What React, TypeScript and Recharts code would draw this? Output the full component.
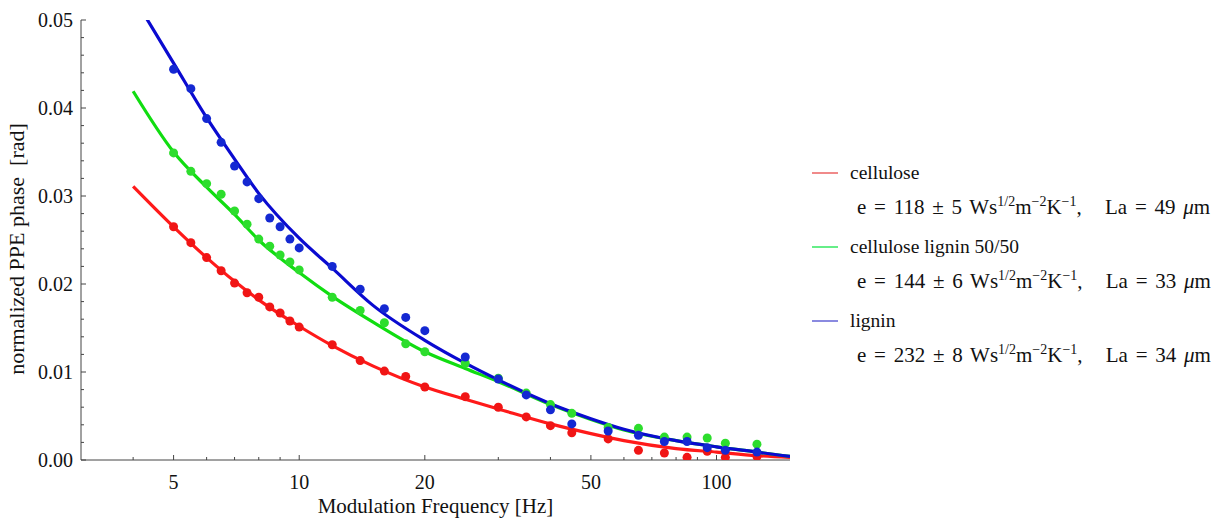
import React from 'react';
import { ComposedChart, Line, Scatter, XAxis, YAxis, Legend, Label } from 'recharts';

// measured frequencies [Hz]
const freqs = [5, 5.5, 6, 6.5, 7, 7.5, 8, 8.5, 9, 9.5, 10, 12, 14, 16, 18, 20, 25, 30, 35, 40, 45, 55, 65, 75, 85, 95, 105, 125];

const celluloseData = [0.0265, 0.0247, 0.023, 0.0215, 0.0201, 0.019, 0.0185, 0.0174, 0.0167, 0.0158, 0.0151, 0.0131, 0.0113, 0.0101, 0.0095, 0.0083, 0.0072, 0.006, 0.0049, 0.0039, 0.0031, 0.0024, 0.0011, 0.0008, 0.0003, 0.001, 0.0003, 0.0004];
const mixData = [0.0349, 0.0328, 0.0314, 0.0302, 0.0283, 0.0268, 0.0251, 0.0243, 0.0233, 0.0225, 0.0216, 0.0185, 0.017, 0.0156, 0.0132, 0.0123, 0.011, 0.0093, 0.0076, 0.0063, 0.0053, 0.0037, 0.0036, 0.0026, 0.0026, 0.0025, 0.0019, 0.0018];
const ligninData = [0.0444, 0.0422, 0.0388, 0.0361, 0.0334, 0.0316, 0.0297, 0.0275, 0.0265, 0.0251, 0.0241, 0.022, 0.0194, 0.0172, 0.0162, 0.0147, 0.0117, 0.0092, 0.0074, 0.0057, 0.0041, 0.0033, 0.0028, 0.0021, 0.0021, 0.0014, 0.0011, 0.0009];

// fitted curves
const fitFreqs = [4, 5, 6, 7, 8, 10, 12, 15, 20, 25, 30, 40, 50, 60, 80, 100, 125, 150];
const celluloseFit = [0.0311, 0.0265, 0.023, 0.0203, 0.0182, 0.0152, 0.013, 0.0107, 0.0083, 0.0069, 0.0058, 0.0041, 0.003, 0.0022, 0.0013, 0.0009, 0.0005, 0.0003];
const mixFit = [0.0419, 0.035, 0.031, 0.0279, 0.025, 0.0213, 0.0186, 0.0157, 0.0123, 0.0104, 0.0089, 0.0063, 0.0046, 0.0034, 0.0022, 0.0015, 0.0009, 0.0004];
const ligninFit = [0.0527, 0.0451, 0.0389, 0.0342, 0.0303, 0.0252, 0.0218, 0.0176, 0.0136, 0.011, 0.0091, 0.0064, 0.0047, 0.0035, 0.0022, 0.0015, 0.0009, 0.0004];

const xMajor = [5, 10, 20, 50, 100];
const xTicks = [4, 5, 6, 7, 8, 9, 10, 20, 30, 40, 50, 60, 70, 80, 90, 100];
const yMajor = [0, 0.01, 0.02, 0.03, 0.04, 0.05];
const yTicks = [0, 0.002, 0.004, 0.006, 0.008, 0.01, 0.012, 0.014, 0.016, 0.018, 0.02, 0.022, 0.024, 0.026, 0.028, 0.03, 0.032, 0.034, 0.036, 0.038, 0.04, 0.042, 0.044, 0.046, 0.048, 0.05];

const series = [
  { name: 'cellulose', e: '118 ± 5', la: '49', pts: celluloseData, fit: celluloseFit, line: '#ff1a1a', dot: '#f01515', key: '#f08a8a' },
  { name: 'cellulose lignin 50/50', e: '144 ± 6', la: '33', pts: mixData, fit: mixFit, line: '#11dd11', dot: '#2ddd2d', key: '#66ee88' },
  { name: 'lignin', e: '232 ± 8', la: '34', pts: ligninData, fit: ligninFit, line: '#0a0ad0', dot: '#1428d2', key: '#8a8ae0' },
];

const FONT = '"Liberation Serif", "DejaVu Serif", serif';

const XTick = (props: any) => {
  const { x, y, payload } = props;
  const major = xMajor.includes(payload.value);
  return (
    <g>
      <line x1={x} x2={x} y1={y} y2={y - (major ? 5 : 3)} stroke="#444" strokeWidth={1} />
      {major && (
        <text x={x} y={y + 29} textAnchor="middle" fontFamily={FONT} fontSize={20} fill="#111">
          {payload.value}
        </text>
      )}
    </g>
  );
};

const YTick = (props: any) => {
  const { x, y, payload } = props;
  const major = yMajor.some(v => Math.abs(v - payload.value) < 1e-9);
  return (
    <g>
      <line x1={x} x2={x + (major ? 5 : 3)} y1={y} y2={y} stroke="#444" strokeWidth={1} />
      {major && (
        <text x={x - 8} y={y + 7} textAnchor="end" fontFamily={FONT} fontSize={20} fill="#111">
          {payload.value.toFixed(2)}
        </text>
      )}
    </g>
  );
};

const Dot = (color: string) => (props: any) => (
  <circle cx={props.cx} cy={props.cy} r={4.5} fill={color} />
);

const sup: React.CSSProperties = { fontSize: 14, verticalAlign: 'super', lineHeight: 0 };

const LegendBox = () => (
  <div style={{ fontFamily: FONT, color: '#111' }}>
    {series.map(s => (
      <div key={s.name}>
        <div style={{ display: 'flex', alignItems: 'center', height: 34, fontSize: 19.5 }}>
          <span style={{ display: 'inline-block', width: 26, height: 2, background: s.key, marginRight: 12 }} />
          <span>{s.name}</span>
        </div>
        <div style={{ paddingLeft: 45, height: 40, lineHeight: '34px', fontSize: 21, wordSpacing: 2.5, whiteSpace: 'nowrap' }}>
          e = {s.e} Ws<span style={sup}>1/2</span>m<span style={sup}>−2</span>K<span style={sup}>−1</span>,&nbsp;&nbsp; La = {s.la} <i>μ</i>m
        </div>
      </div>
    ))}
  </div>
);

export default function App() {
  return (
    <div style={{ position: 'absolute', left: 0, top: 0, background: '#fff' }}>
      <ComposedChart width={1218} height={521} margin={{ top: 20, right: 428, bottom: 6, left: 21 }}>
        <XAxis
          dataKey="f"
          type="number"
          scale="log"
          domain={[3, 150]}
          allowDataOverflow
          ticks={xTicks}
          tick={<XTick />}
          tickLine={false}
          tickSize={0}
          tickMargin={0}
          interval={0}
          height={55}
          stroke="#444"
        >
          <Label value="Modulation Frequency [Hz]" position="insideBottom" offset={2} fontFamily={FONT} fontSize={21} fill="#111" />
        </XAxis>
        <YAxis
          type="number"
          domain={[0, 0.05]}
          allowDataOverflow
          ticks={yTicks}
          tick={<YTick />}
          tickLine={false}
          tickSize={0}
          tickMargin={0}
          interval={0}
          width={60}
          stroke="#444"
        >
          <Label
            content={(p: any) => {
              const vb = p.viewBox;
              const cx = vb.x + 3;
              const cy = vb.y + vb.height / 2 + 9;
              return (
                <text x={cx} y={cy} transform={`rotate(-90, ${cx}, ${cy})`} textAnchor="middle" fontFamily={FONT} fontSize={22} fill="#111">
                  normalized PPE phase&nbsp;&nbsp;[rad]
                </text>
              );
            }}
          />
        </YAxis>
        <Legend
          layout="horizontal"
          verticalAlign="middle"
          align="center"
          content={<LegendBox />}
          wrapperStyle={{ left: 812, top: 156, width: 406, height: 230 }}
        />
        {series.map(s => (
          <Line
            key={'fit-' + s.name}
            data={fitFreqs.map((f, i) => ({ f, v: s.fit[i] }))}
            dataKey="v"
            type="monotone"
            stroke={s.line}
            strokeWidth={3.2}
            dot={false}
            activeDot={false}
            isAnimationActive={false}
            legendType="none"
          />
        ))}
        {series.map(s => (
          <Scatter
            key={'pts-' + s.name}
            data={freqs.map((f, i) => ({ f, v: s.pts[i] }))}
            dataKey="v"
            fill={s.dot}
            shape={Dot(s.dot)}
            isAnimationActive={false}
          />
        ))}
      </ComposedChart>
    </div>
  );
}
